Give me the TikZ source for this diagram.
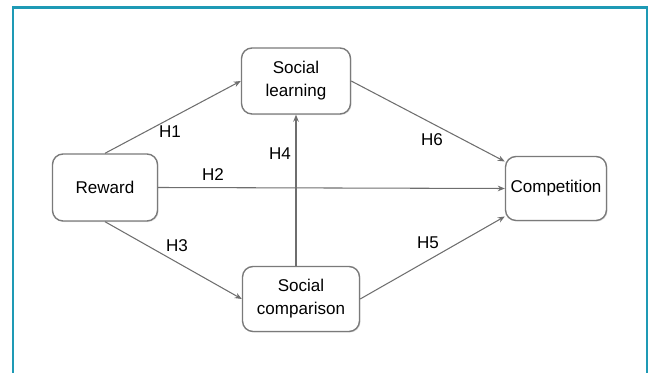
\documentclass[tikz,border=0pt]{standalone}
\usepackage{fontspec}
\setmainfont{Liberation Sans}
\usepackage{tikz}
\usetikzlibrary{arrows.meta,shadows}

\definecolor{frameteal}{HTML}{1E9AB5}
\definecolor{boxgray}{HTML}{7A7A7A}
\definecolor{arrowgray}{HTML}{6E6E6E}

\tikzset{
  factor/.style={draw=boxgray, line width=0.8pt, rounded corners=6pt, fill=white,
    align=center, inner sep=0pt, font=\fontsize{9.7}{13}\selectfont,
    drop shadow={opacity=0.2, shadow xshift=0.6pt, shadow yshift=-0.6pt}},
  path/.style={draw=arrowgray, line width=0.6pt, -{Stealth[length=4pt,width=3.2pt]}},
  hyp/.style={font=\fontsize{9.7}{12}\selectfont, inner sep=1pt}
}

\begin{document}
\begin{tikzpicture}
    \useasboundingbox (0, 0) rectangle (13, -7.46);
    % frame, open at the bottom
    \draw[frameteal, line width=1.2pt] (0.254, -7.46) -- (0.254, -0.15) -- (12.934, -0.15) -- (12.934, -7.46);

    \node[factor, minimum width=2.10cm, minimum height=1.34cm] (reward) at (2.10, -3.75) {Reward};
    \node[factor, minimum width=2.18cm, minimum height=1.32cm] (learning) at (5.92, -1.62) {Social\\learning};
    \node[factor, minimum width=2.34cm, minimum height=1.30cm] (comparison) at (6.02, -5.98) {Social\\comparison};
    \node[factor, minimum width=2.02cm, minimum height=1.28cm] (competition) at (11.12, -3.77) {Competition};

    \draw[path] (reward.north) -- (learning.west);
    \draw[path] (reward.east) -- (competition.west);
    \draw[path] (reward.south) -- (comparison.west);
    \draw[path] (comparison.north -| learning.south) -- (learning.south);
    \draw[path] (learning.east) -- ([yshift=0.54cm]competition.west);
    \draw[path] (comparison.east) -- ([yshift=-0.56cm]competition.west);

    \node[hyp] (h1) at (3.40, -2.64) {H1};
    \node[hyp] (h2) at (4.26, -3.50) {H2};
    \node[hyp] (h3) at (3.54, -4.92) {H3};
    \node[hyp] (h4) at (5.60, -3.08) {H4};
    \node[hyp] (h5) at (8.56, -4.86) {H5};
    \node[hyp] (h6) at (8.64, -2.80) {H6};
  \end{tikzpicture}
\end{document}
